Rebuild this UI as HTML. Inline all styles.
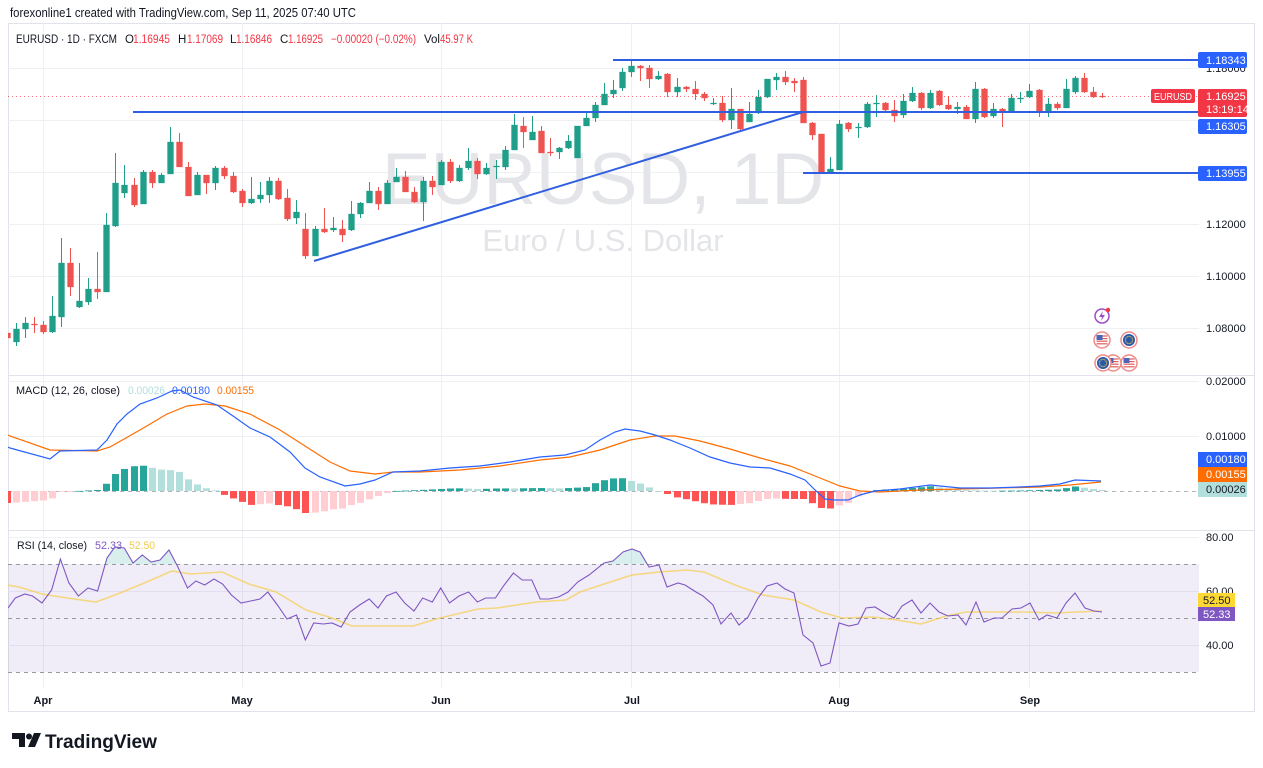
<!DOCTYPE html>
<html><head><meta charset="utf-8">
<style>
html,body{margin:0;padding:0;background:#fff;width:1263px;height:768px;overflow:hidden}
svg{display:block;font-family:"Liberation Sans",Arial,sans-serif}
</style></head><body>
<svg id="s" width="1263" height="768" viewBox="0 0 1263 768" xmlns="http://www.w3.org/2000/svg">
<defs>
<clipPath id="cp"><rect x="8" y="23" width="1191" height="665"/></clipPath>
<clipPath id="ob"><rect x="8" y="530" width="1191" height="34"/></clipPath>
</defs>
<rect x="0" y="0" width="1263" height="768" fill="#fff"/>
<text x="10" y="17" font-size="12.5" fill="#131722" textLength="346" lengthAdjust="spacingAndGlyphs">forexonline1 created with TradingView.com, Sep 11, 2025 07:40 UTC</text>

<!-- frame -->
<rect x="8.5" y="23.5" width="1246" height="688" fill="none" stroke="#e0e3eb"/>

<g id="grid" stroke="#eef0f4" stroke-width="1"></g>

<!-- RSI band -->
<rect x="8" y="564" width="1191" height="108" fill="rgba(126,87,194,0.11)"/>
<g stroke="#9598a1" stroke-width="1" stroke-dasharray="4 4">
<line x1="8" x2="1199" y1="564.5" y2="564.5"/>
<line x1="8" x2="1199" y1="618.5" y2="618.5"/>
<line x1="8" x2="1199" y1="672.5" y2="672.5"/>
</g>
<!-- MACD zero -->
<line x1="8" x2="1199" y1="491.5" y2="491.5" stroke="#b2b5be" stroke-dasharray="4 4"/>

<!-- pane separators -->
<line x1="8" x2="1254" y1="375.5" y2="375.5" stroke="#e0e3eb"/>
<line x1="8" x2="1254" y1="530.5" y2="530.5" stroke="#e0e3eb"/>

<!-- watermark -->
<text x="603" y="204" font-size="73" fill="#e4e5e8" text-anchor="middle">EURUSD, 1D</text>
<text x="603" y="251" font-size="31" fill="#e4e5e8" text-anchor="middle">Euro / U.S. Dollar</text>

<g clip-path="url(#cp)">
<!-- last price dotted line -->
<line x1="8" x2="1199" y1="96.5" y2="96.5" stroke="#f23645" stroke-width="1" stroke-dasharray="1 3" opacity="0.7"/>
<g id="ovb" clip-path="url(#ob)"></g>
<g id="hist"></g>
<g id="candles"></g>
<g id="lines"></g>
<!-- drawings -->
<g stroke="#2f5fe0" stroke-width="2" fill="none">
<line x1="613" y1="60" x2="1199" y2="60"/>
<line x1="133" y1="112" x2="1199" y2="112"/>
<line x1="803" y1="173" x2="1199" y2="173"/>
<line x1="314" y1="261" x2="803" y2="112"/>
</g>
</g>

<!-- header line 2 -->
<g font-size="11.5" fill="#131722">
<text x="16" y="43" textLength="101" lengthAdjust="spacingAndGlyphs">EURUSD · 1D · FXCM</text>
<text x="125" y="43">O</text><text x="133" y="43" fill="#f23645" textLength="37" lengthAdjust="spacingAndGlyphs">1.16945</text>
<text x="178" y="43">H</text><text x="187" y="43" fill="#f23645" textLength="36" lengthAdjust="spacingAndGlyphs">1.17069</text>
<text x="230" y="43">L</text><text x="236" y="43" fill="#f23645" textLength="36" lengthAdjust="spacingAndGlyphs">1.16846</text>
<text x="280" y="43">C</text><text x="288" y="43" fill="#f23645" textLength="35" lengthAdjust="spacingAndGlyphs">1.16925</text>
<text x="331" y="43" fill="#f23645" textLength="85" lengthAdjust="spacingAndGlyphs">−0.00020 (−0.02%)</text>
<text x="424" y="43" textLength="16" lengthAdjust="spacingAndGlyphs">Vol</text><text x="440" y="43" fill="#f23645" textLength="33" lengthAdjust="spacingAndGlyphs">45.97 K</text>
</g>

<!-- MACD legend -->
<g font-size="11" fill="#131722">
<text x="16" y="394" textLength="104" lengthAdjust="spacingAndGlyphs">MACD (12, 26, close)</text>
<text x="128" y="394" fill="#b2dfdb" textLength="37" lengthAdjust="spacingAndGlyphs">0.00026</text>
<text x="172" y="394" fill="#2962ff" textLength="38" lengthAdjust="spacingAndGlyphs">0.00180</text>
<text x="217" y="394" fill="#ff6d00" textLength="37" lengthAdjust="spacingAndGlyphs">0.00155</text>
</g>
<!-- RSI legend -->
<g font-size="11" fill="#131722">
<text x="17" y="549" textLength="70" lengthAdjust="spacingAndGlyphs">RSI (14, close)</text>
<text x="95" y="549" fill="#7e57c2" textLength="27" lengthAdjust="spacingAndGlyphs">52.33</text>
<text x="129" y="549" fill="#f2c94c" textLength="26" lengthAdjust="spacingAndGlyphs">52.50</text>
</g>

<!-- right axis labels -->
<g font-size="11" fill="#131722">
<text x="1206" y="72">1.18000</text>
<text x="1206" y="228">1.12000</text>
<text x="1206" y="280">1.10000</text>
<text x="1206" y="332">1.08000</text>
<text x="1206" y="385">0.02000</text>
<text x="1206" y="440">0.01000</text>
<text x="1206" y="541">80.00</text>
<text x="1206" y="595">60.00</text>
<text x="1206" y="649">40.00</text>
</g>

<!-- axis boxes -->
<g font-size="11">
<rect x="1198" y="52" width="49" height="16" rx="2" fill="#2962ff"/>
<text x="1206" y="64" fill="#fff">1.18343</text>
<rect x="1151" y="89" width="44" height="14" rx="2" fill="#f23645"/>
<text x="1154" y="100" fill="#fff" font-size="10" textLength="38" lengthAdjust="spacingAndGlyphs">EURUSD</text>
<rect x="1198" y="89" width="49" height="28" rx="2" fill="#f23645"/>
<text x="1206" y="100" fill="#fff">1.16925</text>
<text x="1206" y="113" fill="#fff">13:19:14</text>
<rect x="1198" y="119" width="49" height="15" rx="2" fill="#2962ff"/>
<text x="1206" y="130" fill="#fff">1.16305</text>
<rect x="1198" y="166" width="49" height="15" rx="2" fill="#2962ff"/>
<text x="1206" y="177" fill="#fff">1.13955</text>
<rect x="1198" y="452" width="49" height="15" fill="#2962ff"/>
<text x="1206" y="463" fill="#fff">0.00180</text>
<rect x="1198" y="467" width="49" height="15" fill="#ff6d00"/>
<text x="1206" y="478" fill="#fff">0.00155</text>
<rect x="1198" y="482" width="49" height="15" fill="#b2dfdb"/>
<text x="1206" y="493" fill="#131722">0.00026</text>
<rect x="1198" y="593" width="37" height="14" fill="#fdd835"/>
<text x="1203" y="604" fill="#131722">52.50</text>
<rect x="1198" y="607" width="37" height="14" fill="#7e57c2"/>
<text x="1203" y="618" fill="#fff">52.33</text>
</g>

<!-- time axis -->
<g font-size="11" font-weight="bold" fill="#131722" text-anchor="middle">
<text x="43" y="704">Apr</text>
<text x="242" y="704">May</text>
<text x="441" y="704">Jun</text>
<text x="632" y="704">Jul</text>
<text x="839" y="704">Aug</text>
<text x="1030" y="704">Sep</text>
</g>

<!-- event icons -->
<g>
<circle cx="1102" cy="316" r="7" fill="#fff" stroke="#9c4dcc" stroke-width="1.5"/>
<path d="M1103 311 l-4 6 h3 l-1 4 l4 -6 h-3z" fill="#9c4dcc"/>
<circle cx="1108" cy="310" r="2.2" fill="#f23645"/>
<g id="flags"></g>
</g>

<!-- logo -->
<g fill="#131722">
<path d="M12 733 h13 v14 h-6 v-8 h-7z"/>
<circle cx="29" cy="736.5" r="3"/>
<path d="M34 733 h7 l-6 14 h-7z"/>
<text x="45" y="748" font-size="19.5" font-weight="bold" textLength="112" lengthAdjust="spacingAndGlyphs">TradingView</text>
</g>
</svg>
<script>
(function(){
const NS="http://www.w3.org/2000/svg";
function el(tag,a,p){const e=document.createElementNS(NS,tag);for(const k in a)e.setAttribute(k,a[k]);p.appendChild(e);return e;}
const bx=i=>43+(i-4)*9.05;
// grid
const g=document.getElementById('grid');
[43,242,441,631,839,1029].forEach(x=>el('line',{x1:x+.5,x2:x+.5,y1:23,y2:688},g));
[68,120,172,224,276,328,381,436,537,591,645].forEach(y=>el('line',{x1:8,x2:1199,y1:y+.5,y2:y+.5},g));
const C=[
['r',333,338,330,342],['g',329,342,323,346],['g',323,329,317,338],['r',324,325,317,333],['r',325,332,321,334],
['g',316,332,296,333],['g',263,317,238,327],['r',263,287,248,296],['g',301,307,263,308],['g',289,302,278,305],
['r',289,292,252,299],['g',225,292,213,292],['g',183,226,153,227],['g',185,193,165,198],['r',185,205,178,207],
['g',172,204,170,204],['r',172,183,170,188],['g',175,183,173,183],['g',142,174,127,174],['r',142,167,133,167],
['r',167,196,162,196],['g',175,195,172,195],['r',175,183,175,194],['g',168,183,166,190],['r',168,176,166,179],
['r',176,192,172,193],['r',191,203,189,207],['g',199,203,177,204],['g',195,199,182,203],['g',181,195,177,203],
['r',181,199,178,200],['r',198,219,189,221],['g',212,218,200,224],['r',229,256,213,259],['g',229,256,226,256],
['r',229,232,208,233],['g',228,230,217,232],['r',229,235,220,242],['g',214,230,201,231],['g',203,214,202,218],
['g',191,203,182,203],['r',191,204,187,210],['g',183,204,180,204],['g',177,182,168,182],['r',177,192,171,192],
['r',192,202,187,203],['g',181,202,177,221],['r',181,187,176,195],['g',162,185,160,185],['r',162,181,159,183],
['g',168,181,165,182],['g',161,168,148,170],['r',161,174,158,179],['g',168,174,163,175],['g',166,167,160,179],
['g',150,167,146,170],['g',125,150,114,150],['r',126,132,117,148],['g',132,140,116,140],['r',131,153,126,153],
['r',152,153,138,156],['g',148,152,147,159],['g',141,148,135,149],['g',126,158,126,158],['g',118,126,111,126],
['g',105,118,102,122],['g',94,105,83,105],['g',90,94,80,98],['g',72,88,68,91],['g',66,72,60,77],
['r',66,68,65,81],['r',68,79,65,88],['g',76,79,71,80],['r',74,92,73,97],['g',87,92,78,97],
['r',87,89,86,92],['r',89,94,81,100],['r',94,98,92,101],['g',103,104,98,105],['r',103,120,96,122],
['g',109,120,88,129],['r',109,129,109,130],['g',114,122,102,122],['g',97,113,90,114],['g',79,97,79,98],
['g',77,80,73,90],['r',77,82,71,85],['r',81,83,78,92],['r',80,123,77,123],['r',123,135,122,140],
['r',134,172,134,172],['g',169,172,157,172],['g',124,170,120,170],['r',123,129,122,132],['g',127,128,123,138],
['g',104,127,102,128],['g',103,104,95,117],['r',103,110,102,111],['r',110,116,100,122],['g',101,115,94,118],
['g',93,101,87,102],['r',93,108,92,110],['g',93,108,90,109],['r',91,105,90,106],['r',105,109,96,110],
['g',107,109,102,114],['r',107,119,105,119],['g',89,119,82,123],['r',89,117,88,118],['g',109,116,103,118],
['r',109,112,108,127],['g',98,111,94,111],['g',98,98,92,103],['g',91,97,84,98],['r',90,112,89,117],
['g',104,112,98,117],['r',104,108,102,110],['g',89,108,79,108],['g',78,92,76,94],['r',78,92,73,93],
['r',92,97,87,98],['r',96,96,93,98]
];
const GC='#1f9e89',RC='#ef5350';
const gc=document.getElementById('candles');
C.forEach((c,i)=>{const x=Math.round(bx(i));const col=c[0]=='g'?GC:RC;
 el('line',{x1:x+.5,x2:x+.5,y1:c[3],y2:c[4],stroke:col,'stroke-width':1},gc);
 const h=Math.max(1,c[2]-c[1]);
 el('rect',{x:x-2.5,y:c[1],width:6,height:h,fill:col,stroke:col,'stroke-width':0.3},gc);});
function interp(P,x){if(x<=P[0][0])return P[0][1];for(let k=1;k<P.length;k++){if(x<=P[k][0]){const a=P[k-1],b=P[k];return a[1]+(b[1]-a[1])*(x-a[0])/(b[0]-a[0]);}}return P[P.length-1][1];}
const M=[[8,447],[10,448],[50,459],[60,451],[97,450],[107,440],[117,424],[127,414],[140,404],[157,398],[172,391],[180,390],[193,397],[217,405],[233,416],[250,428],[270,437],[290,452],[305,468],[320,477],[345,486],[360,484],[375,480],[393,472],[420,471],[450,468],[480,466],[510,462],[540,457],[565,455],[585,450],[600,440],[615,432],[625,429],[640,431],[655,435],[670,440],[690,448],[710,457],[730,463],[750,467],[770,468],[790,474],[805,480],[815,490],[825,499],[835,500],[848,500],[860,495],[875,491],[900,489],[930,485],[960,488],[990,488],[1020,487],[1040,486],[1060,484],[1075,480],[1101,481]];
const S=[[8,435],[10,436],[50,450],[97,451],[110,447],[140,430],[167,414],[187,406],[205,404],[225,406],[250,414],[280,430],[305,446],[330,462],[350,471],[375,474],[393,472],[420,472],[460,470],[500,466],[540,460],[570,457],[600,450],[630,440],[655,436],[675,436],[700,441],[730,449],[760,458],[790,466],[820,478],[840,486],[860,491],[880,492],[920,490],[960,489],[1000,488],[1040,487],[1070,485],[1101,482]];
const gh=document.getElementById('hist');
let prev=null;
for(let i=0;i<=121;i++){const x=Math.round(bx(i));const m=interp(M,x),s=interp(S,x);const h=s-m;
 let col; if(h>=0){col=(prev!==null&&h<prev)?'#b2dfdb':'#26a69a';} else {col=(prev!==null&&h>prev)?'#ffcdd2':'#ff5252';}
 const y=h>=0?491-h:491; el('rect',{x:x-3,y:y,width:7,height:Math.max(Math.abs(h),0.8),fill:col},gh); prev=h;}
const gl=document.getElementById('lines');
const pts=P=>P.map(p=>p[0]+','+p[1]).join(' ');
el('polyline',{points:pts(S),fill:'none',stroke:'#ff6d00','stroke-width':1.2},gl);
el('polyline',{points:pts(M),fill:'none',stroke:'#2962ff','stroke-width':1.2},gl);
const RY=[[8,585],[19,587],[42,594],[67,598],[96,602],[115,595],[142,584],[172,571],[191,574],[222,572],[249,584],[276,592],[306,610],[329,617],[352,626],[383,626],[413,626],[440,618],[478,609],[497,608],[536,602],[566,600],[580,592],[601,585],[632,575],[659,572],[687,570],[704,572],[735,585],[763,595],[794,600],[821,612],[842,618],[873,617],[897,620],[921,624],[946,616],[966,612],[994,612],[1025,612],[1056,613],[1077,612],[1102,611]];
const RP=[[8,608],[15.3,598],[24.9,594],[32.5,596],[42,603],[51.6,590],[60.4,559],[68.9,583],[78.4,596],[88,588],[97.6,591],[107,558],[114.8,547],[124.3,548],[133,563],[142.3,555],[151,562],[160,560],[169,550],[177.9,567],[187.5,588],[195.9,581],[204.7,585],[214,579],[222.6,584],[231.4,595],[241,603],[250.6,601],[260,599],[267.8,592],[277.4,605],[287,619],[296.5,615],[305.3,640],[313.7,623],[323.3,624],[332,623],[341.2,627],[350,612],[359.6,605],[369.2,599],[378,608],[386.4,596],[396,592],[404.7,603],[414,611],[422.7,598],[432.3,602],[440.7,588],[449.5,603],[459,596],[468.6,592],[477.4,602],[485.8,598],[495.4,598],[504.2,585],[513.4,573],[522.2,580],[531.8,580],[540.2,599],[549,599],[558.5,597],[568,592],[577.7,582],[589,575],[604,563],[613,561],[623,552],[632,549],[640,552],[649,567],[659,565],[667,587],[678,583],[685,585],[696,592],[703,596],[713,605],[721,624],[731,613],[739,625],[748,617],[758,598],[767,586],[777,583],[785,589],[794,593],[803,635],[813,643],[821,666],[830,663],[839,623],[849,626],[858,624],[866,608],[875,607],[883,612],[894,618],[902,606],[912,600],[921,613],[930,603],[939,612],[948,616],[958,615],[966,625],[976,602],[984,622],[994,618],[1002,618],[1012,609],[1021,608],[1030,603],[1039,620],[1047,615],[1057,618],[1066,603],[1075,593],[1085,608],[1094,611],[1102,612]];
// overbought fill
const ob=document.getElementById('ovb');
el('polygon',{points:'8,564 '+pts(RP)+' 1102,564',fill:'rgba(38,166,154,0.18)'},ob);
el('polyline',{points:pts(RY),fill:'none',stroke:'#f6cf57','stroke-width':1.6,opacity:0.75},gl);
el('polyline',{points:pts(RP),fill:'none',stroke:'#7e57c2','stroke-width':1.1},gl);
// flags
const gf=document.getElementById('flags');
function us(cx,cy){el('circle',{cx:cx,cy:cy,r:8,fill:'#fff',stroke:'#ef8a8a','stroke-width':1.5},gf);
 for(let k=-4;k<=4;k+=2.6)el('line',{x1:cx-5.5,x2:cx+5.5,y1:cy+k,y2:cy+k,stroke:'#e05a5a','stroke-width':1.2},gf);
 el('rect',{x:cx-5.5,y:cy-5,width:6,height:5,fill:'#4a64b8'},gf);}
function eu(cx,cy){el('circle',{cx:cx,cy:cy,r:8,fill:'#fff',stroke:'#ef8a8a','stroke-width':1.5},gf);
 el('circle',{cx:cx,cy:cy,r:6,fill:'#2a57a8'},gf);
 for(let k=0;k<12;k++){const a=k*Math.PI/6;el('circle',{cx:cx+3.6*Math.cos(a),cy:cy+3.6*Math.sin(a),r:0.6,fill:'#f5d442'},gf);}}
us(1102,340);eu(1129,340);us(1129,363);us(1113,363);eu(1103,363);
})();
</script>
</body></html>
